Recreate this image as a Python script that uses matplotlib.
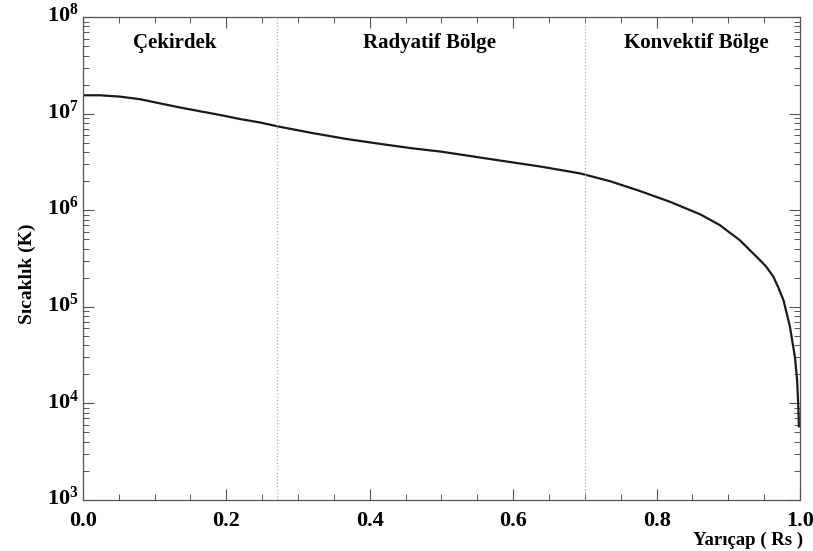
import math
import matplotlib
matplotlib.use("Agg")
import matplotlib.pyplot as plt
import matplotlib.transforms as mtransforms
from matplotlib.ticker import MultipleLocator, LogLocator, FuncFormatter, NullFormatter

# Data
radius = [0.0, 0.024, 0.052, 0.08, 0.107, 0.135, 0.163, 0.191, 0.219, 0.247, 0.275,
          0.32, 0.368, 0.42, 0.46, 0.50, 0.577, 0.64, 0.693, 0.735, 0.777, 0.819,
          0.861, 0.888, 0.916, 0.944, 0.953, 0.963, 0.970, 0.977, 0.986, 0.993, 0.996, 0.998, 0.9985]
temperature = [1.55e7, 1.55e7, 1.50e7, 1.41e7, 1.28e7, 1.16e7, 1.06e7, 9.7e6, 8.8e6, 8.1e6, 7.3e6,
               6.3e6, 5.46e6, 4.8e6, 4.37e6, 4.04e6, 3.31e6, 2.82e6, 2.41e6, 2.0e6, 1.58e6, 1.22e6,
               9.06e5, 7.03e5, 4.9e5, 3.05e5, 2.6e5, 2.04e5, 1.57e5, 1.17e5, 6.2e4, 3.0e4, 1.74e4, 7.9e3, 5.75e3]
boundaries = [0.27, 0.70]
region_labels = ["Çekirdek", "Radyatif Bölge", "Konvektif Bölge"]
region_centers = [0.128, 0.484, 0.855]
xlabel = "Yarıçap ( Rs )"
ylabel = "Sıcaklık (K)"

plt.rcParams['font.family'] = ['Liberation Serif', 'DejaVu Serif']
plt.rcParams['font.weight'] = 'bold'
plt.rcParams['mathtext.fontset'] = 'custom'
plt.rcParams['mathtext.rm'] = 'Liberation Serif:bold'
plt.rcParams['mathtext.bf'] = 'Liberation Serif:bold'

fig = plt.figure(figsize=(8.13, 5.51), dpi=100)
ax = fig.add_axes([0.102, 0.0926, 0.882, 0.8764])

ax.plot(radius, temperature, color='#1a1a1a', lw=1.6,
        solid_joinstyle='round', solid_capstyle='round')
for b in boundaries:
    ax.axvline(b, color='#aaaaaa', lw=0.9, ls=':')

ax.set_yscale('log')
ax.set_xlim(0, 1)
ax.set_ylim(1e3, 1e8)

for cx, lab in zip(region_centers, region_labels):
    ax.text(cx, 5.4e7, lab, ha='center', va='center', fontsize=15, fontweight='bold')

ax.xaxis.set_major_locator(MultipleLocator(0.2))
ax.xaxis.set_minor_locator(MultipleLocator(0.05))
ax.xaxis.set_major_formatter(FuncFormatter(lambda v, p: f"{v:.1f}"))
ax.yaxis.set_major_locator(LogLocator(base=10, numticks=10))
ax.yaxis.set_minor_locator(LogLocator(base=10, subs=range(2, 10), numticks=20))
ax.yaxis.set_minor_formatter(NullFormatter())
ax.yaxis.set_major_formatter(FuncFormatter(lambda v, p: r"$\mathbf{10^{%d}}$" % round(math.log10(v))))

ax.tick_params(which='both', direction='in', top=True, right=True, color='#555555')
ax.tick_params(which='major', length=8, width=0.8)
ax.tick_params(which='minor', length=4, width=0.7)
ax.tick_params(axis='x', which='major', labelsize=16, pad=8)
ax.tick_params(axis='y', which='major', labelsize=16, pad=3)
for s in ax.spines.values():
    s.set_color('#555555')
    s.set_linewidth(0.9)

shift = mtransforms.ScaledTranslation(0, 3 / 72, fig.dpi_scale_trans)
for lbl in ax.get_yticklabels():
    lbl.set_transform(lbl.get_transform() + shift)

fig.text(0.988, 0.020, xlabel, ha='right', va='center', fontsize=13.5, fontweight='bold')
fig.text(0.034, 0.503, ylabel, ha='center', va='center', rotation=90, fontsize=14, fontweight='bold')

fig.savefig("out.png", dpi=100, facecolor='white')
